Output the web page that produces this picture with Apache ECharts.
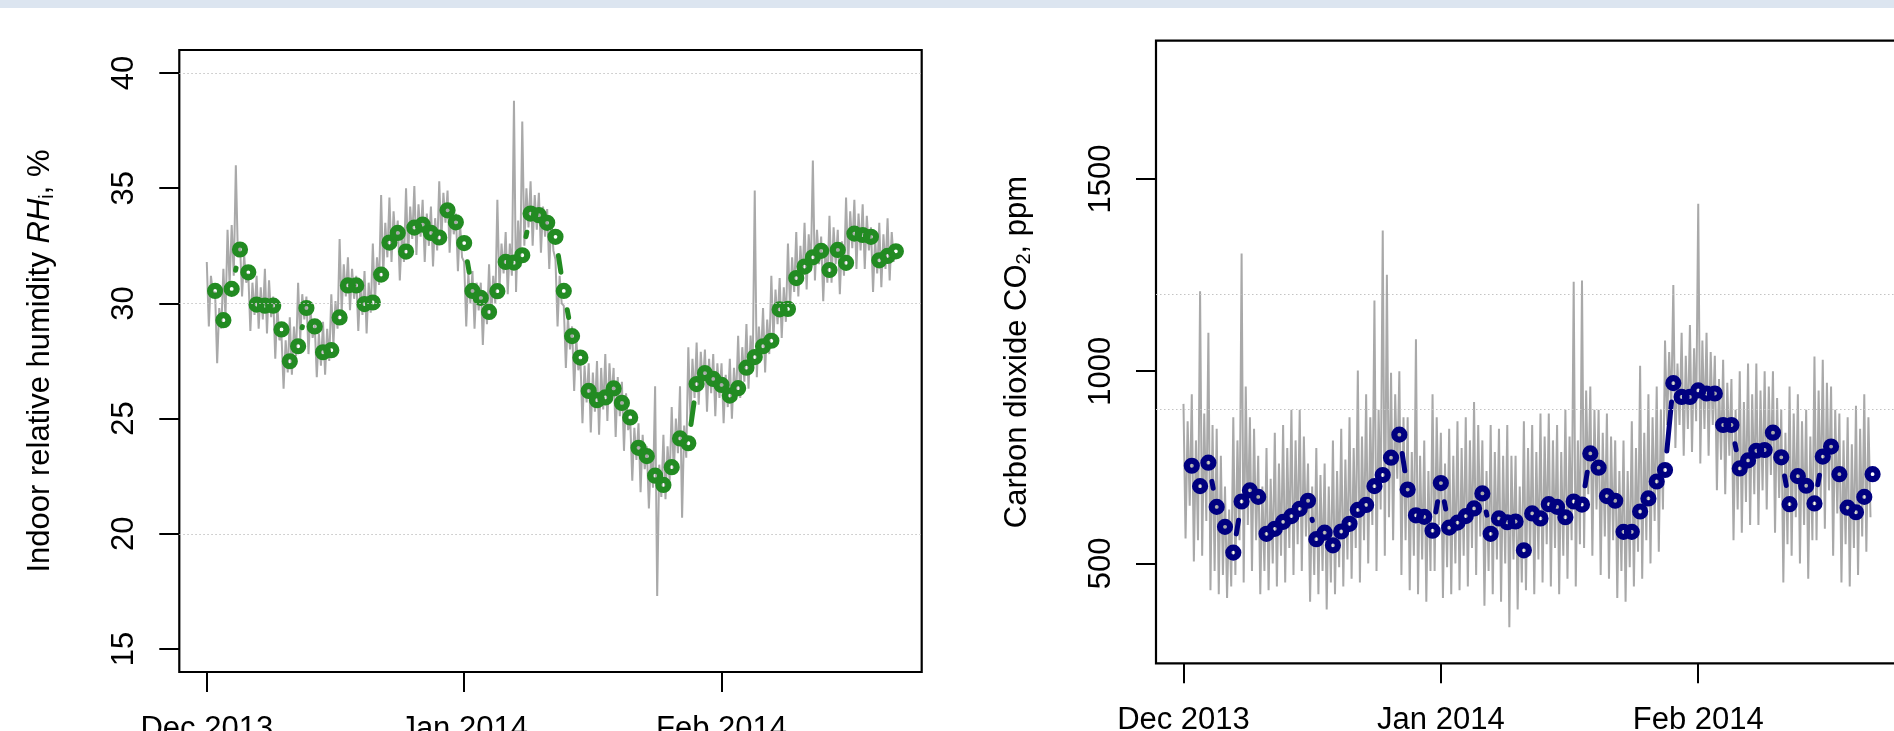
<!DOCTYPE html>
<html>
<head>
<meta charset="utf-8">
<script src="https://cdn.jsdelivr.net/npm/echarts@6/dist/echarts.min.js"></script>
<style>
html,body{margin:0;padding:0;background:#fff;}
#chart{width:1894px;height:731px;}
</style>
</head>
<body>
<div id="chart"></div>
<script>
// ---------------- DATA ----------------
// month tick positions (days since 1 Dec 2013) and labels
const xTickDays = [0, 31, 62];
const xTickLabels = ['Dec 2013', 'Jan 2014', 'Feb 2014'];
const samplesPerDay = 4;   // raw readings: every 6 hours

// Indoor relative humidity, raw readings (%), 4 per day from 1 Dec 2013
const rawRH = [
31.8,29.0,31.2,30.4, 30.5,27.4,29.8,28.9, 31.5,29.4,33.2,30.8, 33.4,31.2,36.0,32.0,
32.6,30.3,32.1,30.9, 31.3,28.8,30.9,29.5, 31.2,28.9,30.7,29.3, 31.5,28.7,31.0,29.4,
30.3,27.6,29.9,28.4, 28.6,26.3,28.4,27.0, 29.4,26.9,29.0,27.7, 30.9,28.4,30.4,29.3,
30.3,27.8,29.7,28.5, 29.1,26.8,28.7,27.3, 29.2,26.9,28.9,27.5, 30.4,28.2,30.1,28.9,
32.8,29.6,31.7,30.3, 32.0,29.7,31.5,30.2, 31.2,28.8,30.8,29.5, 31.4,28.7,30.9,29.6,
32.6,30.0,32.0,30.8, 34.7,31.2,33.5,32.0, 34.6,31.8,34.0,32.6, 33.6,31.0,33.0,31.8,
35.0,32.0,34.2,32.8, 35.1,32.1,34.3,32.9, 34.5,31.8,33.9,32.5, 34.2,31.6,33.7,32.3,
35.3,32.7,34.8,33.5, 34.9,32.2,34.2,33.0, 33.9,31.4,33.5,32.0, 31.8,29.0,31.3,30.0,
31.4,28.9,30.9,29.7, 30.9,28.2,30.5,29.1, 31.7,29.3,31.2,30.0, 34.5,30.6,32.6,31.3,
33.1,30.4,32.6,31.2, 38.8,30.5,33.6,31.6, 37.9,32.5,35.0,33.3, 35.3,32.5,34.7,33.2,
34.8,32.2,34.2,32.9, 34.1,31.5,33.7,32.3, 31.9,29.0,31.2,30.0, 29.9,27.2,29.4,28.0,
29.0,26.2,28.5,27.1, 27.6,24.8,27.3,25.7, 27.4,24.4,27.0,25.3, 27.5,24.3,27.2,25.4,
27.8,24.9,27.4,25.8, 27.2,24.2,26.8,25.1, 26.6,23.6,26.1,24.5, 25.0,22.3,24.6,23.2,
24.8,21.8,24.3,22.8, 23.8,21.1,23.4,22.0, 26.4,17.3,23.0,21.6, 24.3,21.5,23.8,22.3,
25.5,22.6,25.0,23.5, 26.4,20.7,24.7,23.3, 28.1,25.0,27.6,25.9, 28.3,25.6,27.9,26.4,
28.0,25.3,27.6,26.1, 27.8,25.1,27.4,25.9, 27.4,24.8,26.9,25.5, 27.6,25.0,27.2,25.8,
28.6,25.9,28.1,26.6, 29.1,26.3,28.6,27.1, 34.9,26.8,29.0,27.6, 29.8,27.0,29.3,27.8,
31.2,28.4,30.6,29.1, 31.1,28.5,30.7,29.2, 32.6,29.8,32.0,30.5, 33.1,30.3,32.5,31.0,
33.5,30.6,33.0,31.4, 36.2,31.0,33.2,31.7, 32.9,30.1,32.4,30.9, 33.8,30.9,33.3,31.7,
33.2,30.4,32.7,31.2, 34.6,31.6,34.0,32.4, 34.5,31.5,33.9,32.3, 34.3,31.5,33.8,32.3,
33.3,30.5,32.8,31.3, 33.5,30.7,33.0,31.5, 33.7,31.0,33.1,31.8
];

// Indoor relative humidity, daily means (%), days 1..83
const dailyRH = [
30.54,29.27,30.63,32.34,31.35,29.95,29.90,29.90,28.87,27.49,
28.14,29.80,29.00,27.88,27.97,29.39,30.78,30.78,29.97,30.04,
31.25,32.64,33.06,32.25,33.29,33.42,33.06,32.86,34.04,33.52,
32.62,30.54,30.24,29.63,30.53,31.80,31.77,32.09,33.90,33.83,
33.50,32.89,30.54,28.58,27.65,26.20,25.80,25.92,26.31,25.68,
25.05,23.73,23.37,22.52,22.12,22.89,24.14,23.93,26.50,26.97,
26.72,26.46,26.00,26.32,27.21,27.67,28.14,28.38,29.74,29.76,
31.10,31.60,32.00,32.28,31.45,32.32,31.76,33.03,32.97,32.89,
31.87,32.06,32.26
];

// Carbon dioxide, raw readings (ppm), 4 per day from 1 Dec 2013
const rawCO2 = [
915,565,870,650, 940,505,820,560, 1208,520,890,610, 1100,430,860,480,
850,420,780,470, 700,410,640,440, 880,470,820,560, 1306,450,960,600,
880,480,850,560, 780,420,700,480, 800,430,720,500, 840,440,760,520,
860,450,800,540, 900,470,820,550, 900,480,830,570, 760,400,700,470,
800,420,730,480, 760,380,700,450, 820,420,740,490, 850,440,770,510,
880,460,800,540, 1002,450,830,560, 940,500,880,600, 1184,480,900,640,
1366,520,1251,620, 996,560,940,720, 1000,470,880,560, 880,430,790,520,
1083,420,780,510, 820,400,740,480, 940,480,880,600, 840,410,760,490,
850,420,780,500, 870,430,800,520, 880,440,820,540, 920,470,860,570,
820,390,740,480, 860,420,790,510, 850,400,780,500, 860,334,780,510,
780,380,700,450, 870,430,800,520, 860,420,790,510, 890,450,830,550,
890,440,820,540, 860,420,790,520, 900,460,830,560, 1233,440,820,550,
1236,540,950,680, 960,520,900,640, 900,470,840,570, 890,460,830,560,
820,410,740,480, 820,400,740,490, 870,440,800,530, 1014,460,840,560,
940,500,880,610, 960,530,900,640, 1080,860,1050,900, 1224,800,1020,860,
1100,780,1040,850, 1120,790,1060,870, 1436,760,1080,850, 1100,780,1050,860,
1040,690,980,770, 1030,680,970,780, 980,560,900,640, 1000,580,920,660,
1020,600,940,680, 1020,600,950,690, 1000,640,960,730, 1000,580,930,670,
900,450,840,550, 960,520,890,620, 940,500,870,600, 900,460,830,560,
1038,560,950,660, 1030,590,970,690, 960,520,900,630, 890,450,820,550,
880,440,810,540, 910,470,850,570, 940,530,880,620
];

// Carbon dioxide, daily means (ppm), days 1..83
const dailyCO2 = [
754,701,762,647,595,528,661,690,673,577,
590,608,623,642,663,563,580,547,583,603,
639,652,701,730,775,835,692,625,621,585,
709,593,606,623,643,682,577,617,607,609,
534,630,617,654,647,620,661,653,786,749,
675,663,582,582,635,669,713,743,969,933,
933,950,942,942,860,860,747,768,793,795,
840,776,654,727,702,656,778,804,732,645,
633,673,732
];

const rhTicks = [15, 20, 25, 30, 35, 40];
const rhGrid = [20, 30, 40];
const co2Ticks = [500, 1000, 1500];
const co2Grid = [900, 1200];

// ---------------- BUILD ----------------
const FONT = '"Liberation Sans", Arial, Helvetica, sans-serif';
const rawPts = arr => arr.map((v, i) => [i / samplesPerDay, v]);
const dailyPts = arr => arr.map((v, i) => [i + 1, v]);
const segData = arr => {
  const out = [];
  for (let i = 0; i < arr.length - 1; i++) out.push([i + 1, arr[i], i + 2, arr[i + 1]]);
  return out;
};
function segRender(color) {
  return function (params, api) {
    const p1 = api.coord([api.value(0), api.value(1)]);
    const p2 = api.coord([api.value(2), api.value(3)]);
    const dx = p2[0] - p1[0], dy = p2[1] - p1[1];
    const d = Math.sqrt(dx * dx + dy * dy);
    const gap = 19;
    if (d <= 2 * gap) return null;
    const ux = dx / d, uy = dy / d;
    return {
      type: 'line',
      shape: { x1: p1[0] + ux * gap, y1: p1[1] + uy * gap, x2: p2[0] - ux * gap, y2: p2[1] - uy * gap },
      style: { stroke: color, lineWidth: 5, lineCap: 'round' }
    };
  };
}

const labelStyle = { fontSize: 31, color: '#000', fontFamily: FONT };
const tickStyle = { color: '#000', width: 2 };

function xAxisCfg(gi) {
  return {
    gridIndex: gi, type: 'value', min: -3.31, max: 86.11,
    axisLine: { show: false, onZero: false }, splitLine: { show: false },
    axisTick: { show: true, inside: false, length: 20, customValues: xTickDays, lineStyle: tickStyle },
    axisLabel: Object.assign({ customValues: xTickDays, margin: 42,
      formatter: v => xTickLabels[xTickDays.indexOf(v)] }, labelStyle)
  };
}

const gridLineStyle = { color: '#c4c4c4', width: 1.2, type: [1.5, 2.5] };

const option = {
  animation: false,
  backgroundColor: '#ffffff',
  graphic: [{ type: 'rect', left: 0, top: 0, shape: { width: 1894, height: 8 }, style: { fill: '#dce5f0' }, z: 100 }],
  grid: [
    { left: 179.3, top: 50, width: 742.4, height: 622, show: true, borderColor: '#000', borderWidth: 2.2, backgroundColor: 'transparent', containLabel: false, outerBoundsMode: 'none' },
    { left: 1156, top: 40.7, width: 742.4, height: 622.6, show: true, borderColor: '#000', borderWidth: 2.2, backgroundColor: 'transparent', containLabel: false, outerBoundsMode: 'none' }
  ],
  xAxis: [xAxisCfg(0), xAxisCfg(1)],
  yAxis: [
    {
      gridIndex: 0, type: 'value', min: 14, max: 41,
      axisLine: { show: false, onZero: false }, splitLine: { show: false },
      axisTick: { show: true, inside: false, length: 20, customValues: rhTicks, lineStyle: tickStyle },
      axisLabel: Object.assign({ customValues: rhTicks, rotate: 90, margin: 39, formatter: v => String(v) }, labelStyle),
      name: 'Indoor relative humidity {it|RH}{sub|i}, %',
      nameLocation: 'middle', nameRotate: 90, nameGap: 122, nameMoveOverlap: false,
      nameTextStyle: Object.assign({}, labelStyle, {
        rich: {
          it: { fontSize: 31, fontStyle: 'italic', fontFamily: FONT, color: '#000' },
          sub: { fontSize: 20, fontFamily: FONT, color: '#000', padding: [14, 0, 0, 0] }
        }
      })
    },
    {
      gridIndex: 1, type: 'value', min: 240, max: 1860,
      axisLine: { show: false, onZero: false }, splitLine: { show: false },
      axisTick: { show: true, inside: false, length: 20, customValues: co2Ticks, lineStyle: tickStyle },
      axisLabel: Object.assign({ customValues: co2Ticks, rotate: 90, margin: 39, formatter: v => String(v) }, labelStyle),
      name: 'Carbon dioxide CO{sub|2}, ppm',
      nameLocation: 'middle', nameRotate: 90, nameGap: 122, nameMoveOverlap: false,
      nameTextStyle: Object.assign({}, labelStyle, {
        rich: {
          sub: { fontSize: 20, fontFamily: FONT, color: '#000', padding: [14, 0, 0, 0] }
        }
      })
    }
  ],
  series: [
    {
      type: 'line', xAxisIndex: 0, yAxisIndex: 0, data: rawPts(rawRH),
      symbol: 'none', lineStyle: { color: '#a9a9a9', width: 2 }, z: 2, silent: true,
      markLine: { silent: true, symbol: 'none', label: { show: false }, lineStyle: gridLineStyle,
        data: rhGrid.map(v => ({ yAxis: v })) }
    },
    {
      type: 'custom', xAxisIndex: 0, yAxisIndex: 0, data: segData(dailyRH),
      encode: { x: [0, 2], y: [1, 3] }, renderItem: segRender('#228B22'), z: 3, silent: true
    },
    {
      type: 'scatter', xAxisIndex: 0, yAxisIndex: 0, data: dailyPts(dailyRH),
      symbol: 'circle', symbolSize: 10, z: 4, silent: true,
      itemStyle: { color: 'rgba(0,0,0,0)', borderColor: '#228B22', borderWidth: 6.2, opacity: 1 }
    },
    {
      type: 'line', xAxisIndex: 1, yAxisIndex: 1, data: rawPts(rawCO2),
      symbol: 'none', lineStyle: { color: '#a9a9a9', width: 2 }, z: 2, silent: true,
      markLine: { silent: true, symbol: 'none', label: { show: false }, lineStyle: gridLineStyle,
        data: co2Grid.map(v => ({ yAxis: v })) }
    },
    {
      type: 'custom', xAxisIndex: 1, yAxisIndex: 1, data: segData(dailyCO2),
      encode: { x: [0, 2], y: [1, 3] }, renderItem: segRender('#000080'), z: 3, silent: true
    },
    {
      type: 'scatter', xAxisIndex: 1, yAxisIndex: 1, data: dailyPts(dailyCO2),
      symbol: 'circle', symbolSize: 10, z: 4, silent: true,
      itemStyle: { color: 'rgba(0,0,0,0)', borderColor: '#000080', borderWidth: 6.2, opacity: 1 }
    }
  ]
};

const chart = echarts.init(document.getElementById('chart'), null, { renderer: 'canvas', width: 1894, height: 731 });
chart.setOption(option);
</script>
</body>
</html>
